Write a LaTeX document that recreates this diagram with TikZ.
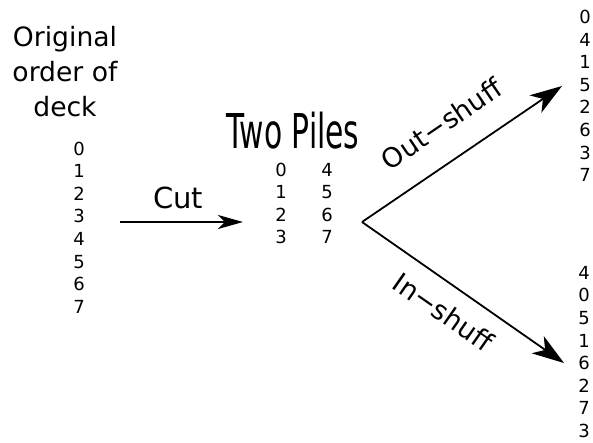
\documentclass[tikz,border=0pt]{standalone}
\usepackage{fontspec}
\usepackage{graphicx}
\setmainfont{DejaVu Sans}
\usetikzlibrary{positioning, arrows.meta}
\tikzset{
  % cards/.style={
  %   draw, rectangle
  % },
  cards/.style={align=center, inner sep=0pt, font=\fontsize{18}{22.6}\selectfont},
  heading/.style={align=center, inner sep=0pt, font=\fontsize{26.6}{35}\selectfont},
  tag/.style={inner sep=0pt, font=\fontsize{27}{30}\selectfont},
  bigarrow/.style={-{Stealth[length=32pt,width=21pt,inset=9pt]}}
}

\begin{document}
\begin{tikzpicture}[x=1pt,y=-1pt,line width=1.8pt]
      \useasboundingbox (0,0) rectangle (593,442);

      \node[heading] (orig) at (65,72) {Original\\order of\\deck};
      \node[cards] (deck) at (79,227.5) {0\\1\\2\\3\\4\\5\\6\\7};

      \coordinate (cutfrom) at (120,222);
      \coordinate (cutto) at (243,222);
      \node[tag, anchor=base, font=\fontsize{29}{32}\selectfont] (cut) at (178,208) {Cut};

      \node[inner sep=0pt, anchor=base, font=\fontsize{48}{50}\selectfont]
            (piles) at (293,148) {\scalebox{0.62}[1]{Two Piles}};
      \node[cards, font=\fontsize{18}{22.3}\selectfont] (left) at (281,203.5) {0\\1\\2\\3};
      \node[cards, font=\fontsize{18}{22.3}\selectfont] (right) at (327,203.5) {4\\5\\6\\7};

      \coordinate (split) at (362,222);
      \coordinate (outtip) at (562,86);
      \coordinate (intip) at (564,363);

      \node[cards] (outdeck) at (585,96) {0\\4\\1\\5\\2\\6\\3\\7};
      \node[cards] (indeck) at (584,352) {4\\0\\5\\1\\6\\2\\7\\3};

      \draw[-{Stealth[length=25pt,width=14pt,inset=7pt]}] (cutfrom) -- (cutto);
      \draw[bigarrow] (split) -- node[tag, sloped, above=25pt] {Out−shuff} (outtip);
      \draw[bigarrow] (split) -- node[tag, sloped, below=16pt, pos=0.48] {In−shuff} (intip);
    \end{tikzpicture}
\end{document}
